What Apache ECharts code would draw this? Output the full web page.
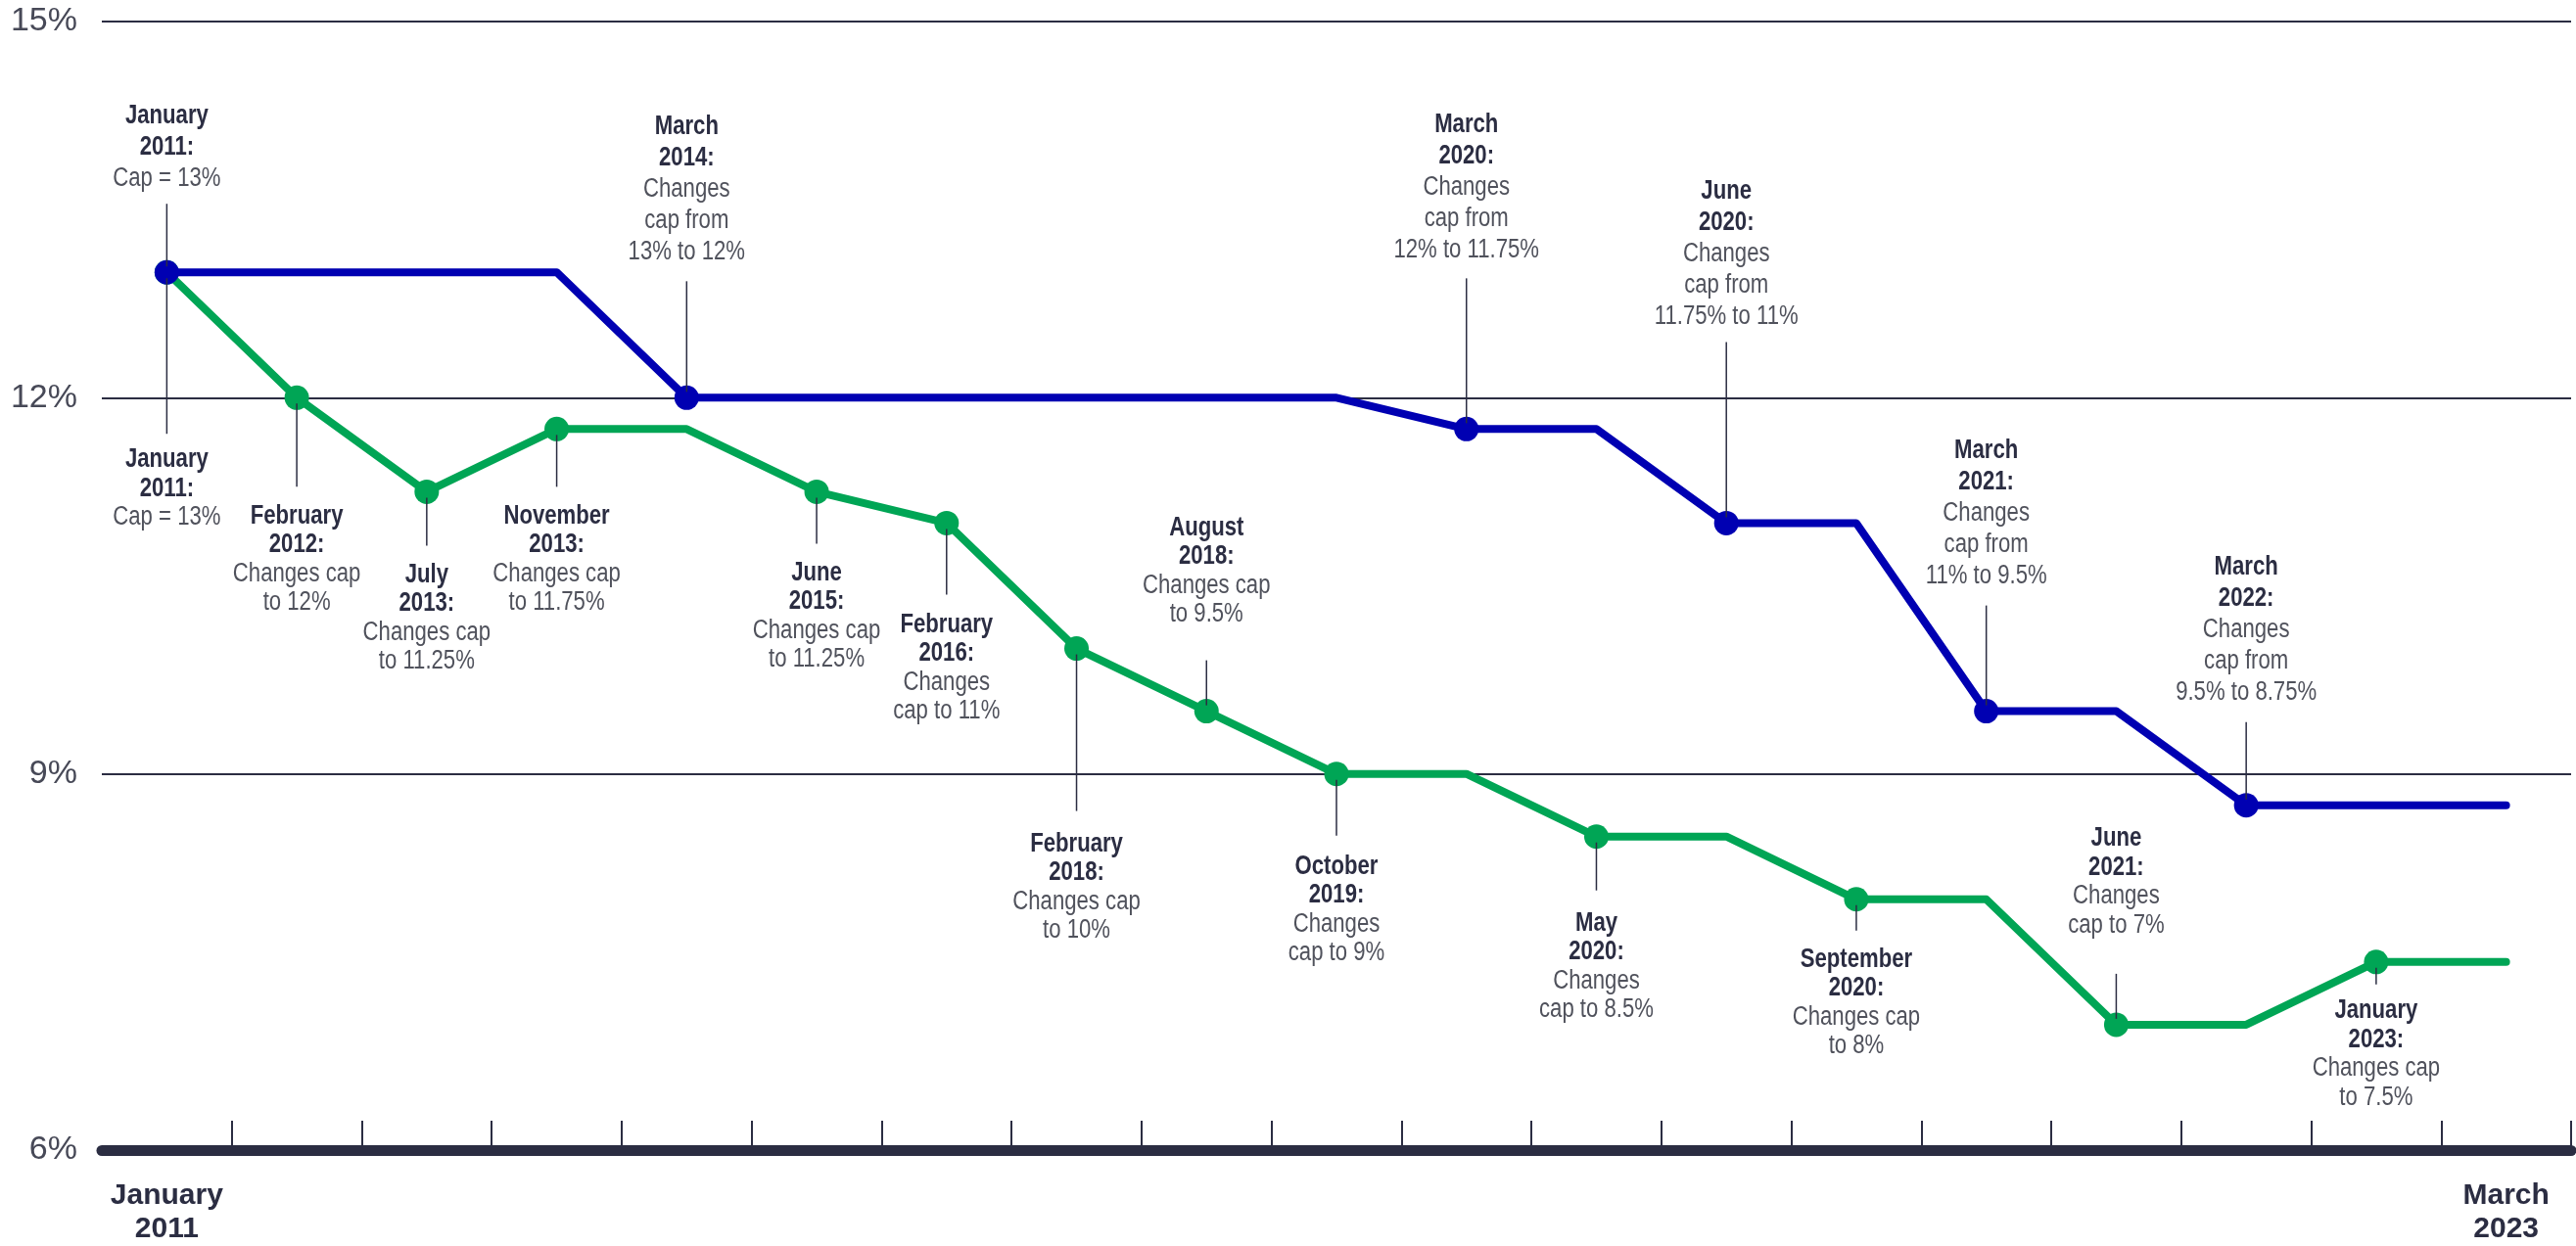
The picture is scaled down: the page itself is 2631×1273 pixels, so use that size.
<!DOCTYPE html>
<html><head><meta charset="utf-8">
<script src="https://cdn.jsdelivr.net/npm/echarts@6/dist/echarts.min.js"></script>
<style>html,body{margin:0;padding:0;background:#fff}#c{width:2631px;height:1273px}</style>
</head><body><div id="c"></div>
<script>
// ---- data ----
const categories = ['January\n2011','','','','','','','','','','','','','','','','','','March\n2023'];
const capBlue  = [13,13,13,13,12,12,12,12,12,12,11.75,11.75,11,11,9.5,9.5,8.75,8.75,8.75];
const capGreen = [13,12,11.25,11.75,11.75,11.25,11,10,9.5,9,9,8.5,8.5,8,8,7,7,7.5,7.5];
const markersBlue  = [0,4,10,12,14,16];
const markersGreen = [0,1,2,3,5,6,7,8,9,11,13,15,17];
const yTicks = [6,9,12,15];

// annotations: series, category index, bold heading, body
const annSeries = ['blue','blue','blue','blue','blue','blue','green','green','green','green','green','green','green','green','green','green','green','green','green'];
const annCat    = [0,4,10,12,14,16,8,15,0,1,2,3,5,6,7,9,11,13,17];
const annHead = ['January\n2011:','March\n2014:','March\n2020:','June\n2020:','March\n2021:','March\n2022:',
  'August\n2018:','June\n2021:','January\n2011:','February\n2012:','July\n2013:','November\n2013:','June\n2015:',
  'February\n2016:','February\n2018:','October\n2019:','May\n2020:','September\n2020:','January\n2023:'];
const annBody = ['Cap = 13%','Changes\ncap from\n13% to 12%','Changes\ncap from\n12% to 11.75%','Changes\ncap from\n11.75% to 11%',
  'Changes\ncap from\n11% to 9.5%','Changes\ncap from\n9.5% to 8.75%','Changes cap\nto 9.5%','Changes\ncap to 7%',
  'Cap = 13%','Changes cap\nto 12%','Changes cap\nto 11.25%','Changes cap\nto 11.75%','Changes cap\nto 11.25%',
  'Changes\ncap to 11%','Changes cap\nto 10%','Changes\ncap to 9%','Changes\ncap to 8.5%','Changes cap\nto 8%','Changes cap\nto 7.5%'];

// ---- layout (px) ----
const annDir = [-1,-1,-1,-1,-1,-1,-1,-1, 1,1,1,1,1,1,1,1,1,1,1];
const annLen = [70,119,154,185,108,85,52,52, 165,91,55,59,53,73,166,63,55,32,23];
const annGap = [10,14,13,10,14,14,32,35, 12,15,15,15,15,16,19,17,19,15,12];
const lineH  = {blue: 32, green: 29.5};
const NARROW = 0.82;

const BLUE = '#0000b2', GREEN = '#00a555', INK = '#2b2d42', GREY = '#50525c';
const FONT = '"Liberation Sans", Arial, sans-serif';

const seriesVals = {blue: capBlue, green: capGreen};
const annData = annCat.map((c, i) => [c, seriesVals[annSeries[i]][c], i]);

function lineSeries(name, vals, marks, color, z) {
  const set = new Set(marks);
  return {
    name, type: 'line', data: vals, z,
    symbol: 'circle',
    symbolSize: (v, p) => set.has(p.dataIndex) ? 25 : 0,
    showSymbol: true,
    lineStyle: {color, width: 8, cap: 'round', join: 'round'},
    itemStyle: {color},
    emphasis: {disabled: true},
    animation: false
  };
}

const chart = echarts.init(document.getElementById('c'), null, {renderer: 'canvas'});
chart.setOption({
  backgroundColor: '#ffffff',
  animation: false,
  grid: {left: 104, right: 5, top: 22, bottom: 98, containLabel: false},
  xAxis: {
    type: 'category', data: categories, boundaryGap: true,
    axisLine: {lineStyle: {color: INK, width: 11}},
    axisTick: {show: true, inside: true, length: 30, interval: (idx) => idx !== 0,
      lineStyle: {color: INK, width: 2}},
    axisLabel: {interval: 0, margin: 30, fontFamily: FONT, fontWeight: 'bold', fontSize: 30,
      lineHeight: 34, color: INK},
    splitLine: {show: false}, z: 5
  },
  yAxis: {
    type: 'value', min: yTicks[0], max: yTicks[yTicks.length - 1], interval: 3,
    axisLine: {show: false}, axisTick: {show: false},
    axisLabel: {formatter: '{value}%', margin: 25, fontFamily: FONT, fontSize: 34, color: '#474957'},
    splitLine: {lineStyle: {color: INK, width: 2}}
  },
  series: [
    lineSeries('Green cap', capGreen, markersGreen, GREEN, 2),
    lineSeries('Blue cap', capBlue, markersBlue, BLUE, 3),
    {
      type: 'custom', z: 10, data: annData, animation: false, silent: true,
      renderItem: function (params, api) {
        const i = api.value(2);
        const p = api.coord([api.value(0), api.value(1)]);
        const dir = annDir[i];
        const yEnd = p[1] + dir * annLen[i];
        const lh = lineH[annSeries[i]];
        const head = annHead[i].split('\n').map(s => '{b|' + s + '}').join('\n');
        const body = annBody[i].split('\n').map(s => '{r|' + s + '}').join('\n');
        return {
          type: 'group',
          children: [
            {type: 'line', shape: {x1: p[0], y1: p[1] + dir * 6, x2: p[0], y2: yEnd},
             style: {stroke: INK, lineWidth: 1.5}},
            {type: 'text', x: p[0], y: yEnd + dir * annGap[i], scaleX: NARROW, scaleY: 1,
             style: {
               x: 0, y: 0,
               text: head + '\n' + body,
               align: 'center', verticalAlign: dir < 0 ? 'bottom' : 'top',
               rich: {
                 b: {fontFamily: FONT, fontWeight: 'bold', fontSize: 27, lineHeight: lh, fill: INK, align: 'center'},
                 r: {fontFamily: FONT, fontSize: 27, lineHeight: lh, fill: GREY, align: 'center'}
               }
             }}
          ]
        };
      }
    }
  ]
});
</script>
</body></html>
